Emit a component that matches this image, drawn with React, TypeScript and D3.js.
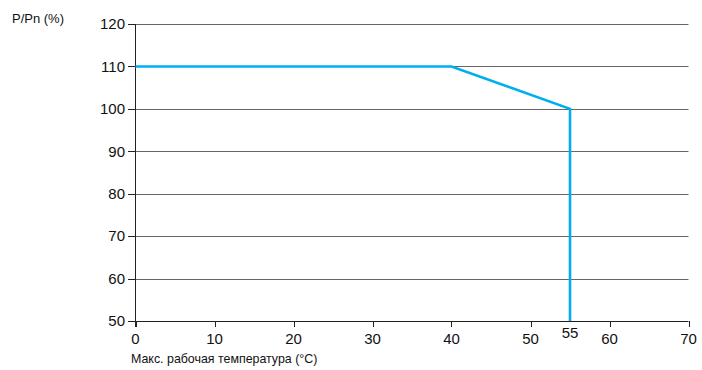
import React from "react";
import * as d3 from "d3";

const temps = [0, 40, 55, 55];
const power = [110, 110, 100, 50];
const xTicks = [0, 10, 20, 30, 40, 50, 60, 70];
const yTicks = [50, 60, 70, 80, 90, 100, 110, 120];
const specialX = 55;
const yTitle = "P/Pn (%)";
const xTitle = "Макс. рабочая температура (°C)";

const W = 702;
const H = 370;
const FONT = "'Liberation Sans Narrow', 'Liberation Sans', Arial, sans-serif";
const NUMFONT = "'Liberation Sans', Arial, sans-serif";

export default function App() {
  const x = d3.scaleLinear().domain([0, 70]).range([135.5, 688.5]);
  const y = d3.scaleLinear().domain([50, 120]).range([321, 24]);
  const line = d3
    .line<number>()
    .x((_, i) => x(temps[i]))
    .y((d) => y(d));
  return (
    <svg
      width={W}
      height={H}
      style={{ position: "absolute", left: 0, top: 0, background: "#fff" }}
      fontFamily={FONT}
    >
      {yTicks
        .filter((t) => t !== 50)
        .map((t) => (
          <line
            key={"g" + t}
            x1={x(0)}
            x2={x(70)}
            y1={Math.round(y(t)) + 0.5}
            y2={Math.round(y(t)) + 0.5}
            stroke="#666"
            strokeWidth={1}
          />
        ))}
      {yTicks.map((t) => (
        <g key={"y" + t}>
          <line
            x1={128}
            x2={x(0)}
            y1={Math.round(y(t)) + 0.5}
            y2={Math.round(y(t)) + 0.5}
            stroke="#222"
            strokeWidth={1}
          />
          <text
            x={125}
            y={y(t)}
            dy="0.35em"
            textAnchor="end"
            fontSize={15}
            fill="#111"
            fontFamily={NUMFONT}
          >
            {t}
          </text>
        </g>
      ))}
      <line x1={x(0)} x2={x(0)} y1={y(120)} y2={y(50) + 6} stroke="#222" strokeWidth={1} />
      <line x1={x(0)} x2={x(70)} y1={Math.round(y(50)) + 0.5} y2={Math.round(y(50)) + 0.5} stroke="#222" strokeWidth={1} />
      {xTicks.map((t) => (
        <g key={"x" + t}>
          <line
            x1={Math.round(x(t)) + 0.5}
            x2={Math.round(x(t)) + 0.5}
            y1={y(50)}
            y2={y(50) + 6}
            stroke="#222"
            strokeWidth={1}
          />
          <text
            x={x(t)}
            y={y(50) + 17.5}
            dy="0.35em"
            textAnchor="middle"
            fontSize={15}
            fill="#111"
            fontFamily={NUMFONT}
          >
            {t}
          </text>
        </g>
      ))}
      <text
        x={x(specialX)}
        y={y(50) + 12}
        dy="0.35em"
        textAnchor="middle"
        fontSize={15}
        fill="#111"
        fontFamily={NUMFONT}
      >
        {specialX}
      </text>
      <path
        d={line(power) || ""}
        fill="none"
        stroke="#00AEEF"
        strokeWidth={2.6}
        strokeLinejoin="miter"
      />
      <text x={12} y={18} dy="0.35em" fontSize={13} fill="#111">
        {yTitle}
      </text>
      <text x={131} y={359} dy="0.35em" fontSize={12.4} fill="#111">
        {xTitle}
      </text>
    </svg>
  );
}
